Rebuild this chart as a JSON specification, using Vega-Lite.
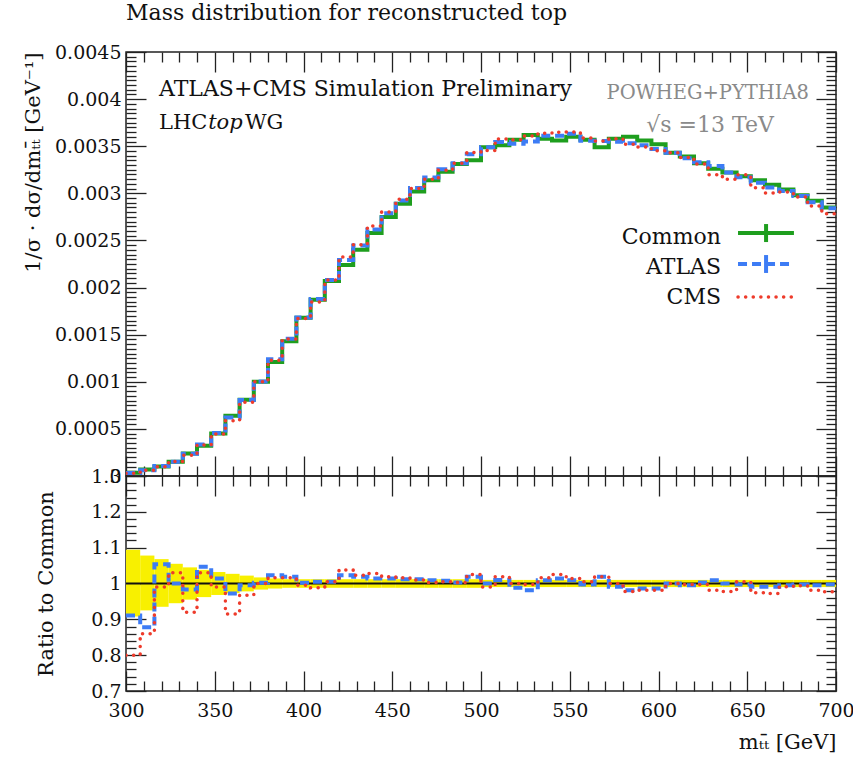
{
  "$schema": "https://vega.github.io/schema/vega-lite/v6.json",
  "background": "white",
  "padding": {"left": 21, "top": 1, "right": 5, "bottom": 0},
  "spacing": 0,
  "bounds": "flush",
  "config": {
    "view": {"stroke": "#222", "strokeWidth": 1.5},
    "font": "DejaVu Serif",
    "axis": {
      "domain": false, "grid": false, "tickColor": "#222", "tickWidth": 1.3,
      "labelFont": "DejaVu Serif", "labelFontSize": 19, "labelColor": "#111",
      "titleFont": "DejaVu Serif", "titleFontSize": 21, "titleFontWeight": "normal", "titleColor": "#111",
      "labelOverlap": false, "labelFlush": false, "labelBound": false
    }
  },
  "datasets": {
    "bins": [
      {"lo":300,"hi":308,"common":0.000035,"atlas":0.0000319,"cms":0.000028,"ra":0.911,"rc":0.80,"blo":0.908,"bhi":1.094},
      {"lo":308,"hi":316,"common":0.00007,"atlas":0.0000615,"cms":0.0000602,"ra":0.878,"rc":0.86,"blo":0.925,"bhi":1.078},
      {"lo":316,"hi":324,"common":0.0001,"atlas":0.0001054,"cms":0.000099,"ra":1.054,"rc":0.99,"blo":0.935,"bhi":1.068},
      {"lo":324,"hi":332,"common":0.00015,"atlas":0.00015,"cms":0.0001545,"ra":1.0,"rc":1.03,"blo":0.945,"bhi":1.055},
      {"lo":332,"hi":340,"common":0.00024,"atlas":0.000236,"cms":0.000221,"ra":0.983,"rc":0.92,"blo":0.955,"bhi":1.045},
      {"lo":340,"hi":348,"common":0.00032,"atlas":0.000335,"cms":0.00033,"ra":1.047,"rc":1.03,"blo":0.962,"bhi":1.038},
      {"lo":348,"hi":356,"common":0.00045,"atlas":0.000456,"cms":0.000446,"ra":1.014,"rc":0.99,"blo":0.968,"bhi":1.032},
      {"lo":356,"hi":364,"common":0.00064,"atlas":0.000622,"cms":0.000586,"ra":0.972,"rc":0.915,"blo":0.973,"bhi":1.027},
      {"lo":364,"hi":372,"common":0.00081,"atlas":0.000806,"cms":0.000783,"ra":0.995,"rc":0.967,"blo":0.978,"bhi":1.022},
      {"lo":372,"hi":380,"common":0.001,"atlas":0.001002,"cms":0.001,"ra":1.002,"rc":1.0,"blo":0.983,"bhi":1.017},
      {"lo":380,"hi":388,"common":0.00121,"atlas":0.001238,"cms":0.001229,"ra":1.023,"rc":1.016,"blo":0.986,"bhi":1.014},
      {"lo":388,"hi":396,"common":0.00143,"atlas":0.001457,"cms":0.001453,"ra":1.019,"rc":1.016,"blo":0.988,"bhi":1.012},
      {"lo":396,"hi":404,"common":0.00168,"atlas":0.001683,"cms":0.001672,"ra":1.002,"rc":0.995,"blo":0.988,"bhi":1.012},
      {"lo":404,"hi":412,"common":0.00187,"atlas":0.001879,"cms":0.001848,"ra":1.005,"rc":0.988,"blo":0.988,"bhi":1.012},
      {"lo":412,"hi":420,"common":0.00207,"atlas":0.00208,"cms":0.00208,"ra":1.005,"rc":1.005,"blo":0.988,"bhi":1.012},
      {"lo":420,"hi":428,"common":0.00224,"atlas":0.002292,"cms":0.002325,"ra":1.023,"rc":1.038,"blo":0.988,"bhi":1.012},
      {"lo":428,"hi":436,"common":0.0024,"atlas":0.002446,"cms":0.002455,"ra":1.019,"rc":1.023,"blo":0.988,"bhi":1.012},
      {"lo":436,"hi":444,"common":0.00258,"atlas":0.002616,"cms":0.002652,"ra":1.014,"rc":1.028,"blo":0.988,"bhi":1.012},
      {"lo":444,"hi":452,"common":0.00275,"atlas":0.002789,"cms":0.002802,"ra":1.014,"rc":1.019,"blo":0.988,"bhi":1.012},
      {"lo":452,"hi":460,"common":0.00289,"atlas":0.002925,"cms":0.002936,"ra":1.012,"rc":1.016,"blo":0.988,"bhi":1.012},
      {"lo":460,"hi":468,"common":0.00302,"atlas":0.003056,"cms":0.00305,"ra":1.012,"rc":1.01,"blo":0.988,"bhi":1.012},
      {"lo":468,"hi":476,"common":0.00314,"atlas":0.003168,"cms":0.003149,"ra":1.009,"rc":1.003,"blo":0.988,"bhi":1.012},
      {"lo":476,"hi":484,"common":0.00323,"atlas":0.003256,"cms":0.003246,"ra":1.008,"rc":1.005,"blo":0.988,"bhi":1.012},
      {"lo":484,"hi":492,"common":0.00331,"atlas":0.00332,"cms":0.00332,"ra":1.003,"rc":1.003,"blo":0.988,"bhi":1.012},
      {"lo":492,"hi":500,"common":0.00335,"atlas":0.003414,"cms":0.003434,"ra":1.019,"rc":1.025,"blo":0.988,"bhi":1.012},
      {"lo":500,"hi":508,"common":0.00349,"atlas":0.00349,"cms":0.003455,"ra":1.0,"rc":0.99,"blo":0.99,"bhi":1.01},
      {"lo":508,"hi":516,"common":0.00351,"atlas":0.003545,"cms":0.003577,"ra":1.01,"rc":1.019,"blo":0.99,"bhi":1.01},
      {"lo":516,"hi":524,"common":0.00357,"atlas":0.003527,"cms":0.00357,"ra":0.988,"rc":1.0,"blo":0.99,"bhi":1.01},
      {"lo":524,"hi":532,"common":0.00362,"atlas":0.003551,"cms":0.003609,"ra":0.981,"rc":0.997,"blo":0.99,"bhi":1.01},
      {"lo":532,"hi":540,"common":0.00358,"atlas":0.003612,"cms":0.003637,"ra":1.009,"rc":1.016,"blo":0.99,"bhi":1.01},
      {"lo":540,"hi":548,"common":0.00356,"atlas":0.00361,"cms":0.003649,"ra":1.014,"rc":1.025,"blo":0.99,"bhi":1.01},
      {"lo":548,"hi":556,"common":0.0036,"atlas":0.003632,"cms":0.00365,"ra":1.009,"rc":1.014,"blo":0.99,"bhi":1.01},
      {"lo":556,"hi":564,"common":0.00357,"atlas":0.003559,"cms":0.003588,"ra":0.997,"rc":1.005,"blo":0.99,"bhi":1.01},
      {"lo":564,"hi":572,"common":0.00349,"atlas":0.003556,"cms":0.003556,"ra":1.019,"rc":1.019,"blo":0.99,"bhi":1.01},
      {"lo":572,"hi":580,"common":0.00358,"atlas":0.003548,"cms":0.00358,"ra":0.991,"rc":1.0,"blo":0.99,"bhi":1.01},
      {"lo":580,"hi":588,"common":0.0036,"atlas":0.003532,"cms":0.003521,"ra":0.981,"rc":0.978,"blo":0.99,"bhi":1.01},
      {"lo":588,"hi":596,"common":0.00356,"atlas":0.00351,"cms":0.003492,"ra":0.986,"rc":0.981,"blo":0.99,"bhi":1.01},
      {"lo":596,"hi":604,"common":0.00352,"atlas":0.003471,"cms":0.003453,"ra":0.986,"rc":0.981,"blo":0.99,"bhi":1.01},
      {"lo":604,"hi":612,"common":0.00343,"atlas":0.00343,"cms":0.00343,"ra":1.0,"rc":1.0,"blo":0.99,"bhi":1.01},
      {"lo":612,"hi":620,"common":0.00339,"atlas":0.003373,"cms":0.00338,"ra":0.995,"rc":0.997,"blo":0.99,"bhi":1.01},
      {"lo":620,"hi":628,"common":0.00332,"atlas":0.00333,"cms":0.00331,"ra":1.003,"rc":0.997,"blo":0.99,"bhi":1.01},
      {"lo":628,"hi":636,"common":0.00326,"atlas":0.003289,"cms":0.003198,"ra":1.009,"rc":0.981,"blo":0.99,"bhi":1.01},
      {"lo":636,"hi":644,"common":0.00322,"atlas":0.00322,"cms":0.003149,"ra":1.0,"rc":0.978,"blo":0.99,"bhi":1.01},
      {"lo":644,"hi":652,"common":0.00318,"atlas":0.00317,"cms":0.003196,"ra":0.997,"rc":1.005,"blo":0.99,"bhi":1.01},
      {"lo":652,"hi":660,"common":0.00314,"atlas":0.003112,"cms":0.003058,"ra":0.991,"rc":0.974,"blo":0.99,"bhi":1.01},
      {"lo":660,"hi":668,"common":0.00309,"atlas":0.003062,"cms":0.003003,"ra":0.991,"rc":0.972,"blo":0.99,"bhi":1.01},
      {"lo":668,"hi":676,"common":0.00304,"atlas":0.003025,"cms":0.003013,"ra":0.995,"rc":0.991,"blo":0.99,"bhi":1.01},
      {"lo":676,"hi":684,"common":0.00298,"atlas":0.002971,"cms":0.002962,"ra":0.997,"rc":0.994,"blo":0.99,"bhi":1.01},
      {"lo":684,"hi":692,"common":0.00292,"atlas":0.002905,"cms":0.002865,"ra":0.995,"rc":0.981,"blo":0.99,"bhi":1.01},
      {"lo":692,"hi":700,"common":0.00285,"atlas":0.002841,"cms":0.002784,"ra":0.997,"rc":0.977,"blo":0.99,"bhi":1.01}
    ]
  },
  "vconcat": [
    {
      "width": 710,
      "height": 424,
      "title": {"text": "Mass distribution for reconstructed top", "anchor": "start", "frame": "group", "fontSize": 22, "fontWeight": "normal", "font": "DejaVu Serif", "color": "#111", "offset": 18},
      "data": {"name": "bins"},
      "resolve": {"axis": {"x": "independent", "y": "independent"}},
      "layer": [
        {
          "mark": {"type": "point", "opacity": 0},
          "encoding": {
            "x": {"field": "lo", "type": "quantitative", "scale": {"domain": [300, 700], "nice": false, "zero": false},
              "axis": {"orient": "bottom", "labels": false, "title": null,
                "values": [300,310,320,330,340,350,360,370,380,390,400,410,420,430,440,450,460,470,480,490,500,510,520,530,540,550,560,570,580,590,600,610,620,630,640,650,660,670,680,690,700],
                "tickSize": {"condition": {"test": "datum.value % 50 === 0", "value": -20}, "value": -10}}},
            "y": {"field": "common", "type": "quantitative", "scale": {"domain": [0, 0.0045], "nice": false, "zero": false},
              "axis": {"orient": "left", "format": "~g",
                "values": [0,0.00005,0.0001,0.00015,0.0002,0.00025,0.0003,0.00035,0.0004,0.00045,0.0005,0.00055,0.0006,0.00065,0.0007,0.00075,0.0008,0.00085,0.0009,0.00095,0.001,0.00105,0.0011,0.00115,0.0012,0.00125,0.0013,0.00135,0.0014,0.00145,0.0015,0.00155,0.0016,0.00165,0.0017,0.00175,0.0018,0.00185,0.0019,0.00195,0.002,0.00205,0.0021,0.00215,0.0022,0.00225,0.0023,0.00235,0.0024,0.00245,0.0025,0.00255,0.0026,0.00265,0.0027,0.00275,0.0028,0.00285,0.0029,0.00295,0.003,0.00305,0.0031,0.00315,0.0032,0.00325,0.0033,0.00335,0.0034,0.00345,0.0035,0.00355,0.0036,0.00365,0.0037,0.00375,0.0038,0.00385,0.0039,0.00395,0.004,0.00405,0.0041,0.00415,0.0042,0.00425,0.0043,0.00435,0.0044,0.00445,0.0045],
                "labelExpr": "abs(datum.value*2000 - round(datum.value*2000)) < 0.001 ? datum.label : ''",
                "tickSize": {"condition": {"test": "abs(datum.value*2000 - round(datum.value*2000)) < 0.001", "value": -20}, "value": -10},
                "labelPadding": 25,
                "title": "1/σ · dσ/dmₜₜ̄ [GeV⁻¹]", "titleAnchor": "end", "titlePadding": 11}}
          }
        },
        {
          "mark": {"type": "point", "opacity": 0},
          "encoding": {
            "x": {"field": "lo", "type": "quantitative",
              "axis": {"orient": "top", "labels": false, "title": null,
                "values": [300,310,320,330,340,350,360,370,380,390,400,410,420,430,440,450,460,470,480,490,500,510,520,530,540,550,560,570,580,590,600,610,620,630,640,650,660,670,680,690,700],
                "tickSize": {"condition": {"test": "datum.value % 50 === 0", "value": -20}, "value": -10}}},
            "y": {"field": "common", "type": "quantitative",
              "axis": {"orient": "right", "labels": false, "title": null,
                "values": [0,0.00005,0.0001,0.00015,0.0002,0.00025,0.0003,0.00035,0.0004,0.00045,0.0005,0.00055,0.0006,0.00065,0.0007,0.00075,0.0008,0.00085,0.0009,0.00095,0.001,0.00105,0.0011,0.00115,0.0012,0.00125,0.0013,0.00135,0.0014,0.00145,0.0015,0.00155,0.0016,0.00165,0.0017,0.00175,0.0018,0.00185,0.0019,0.00195,0.002,0.00205,0.0021,0.00215,0.0022,0.00225,0.0023,0.00235,0.0024,0.00245,0.0025,0.00255,0.0026,0.00265,0.0027,0.00275,0.0028,0.00285,0.0029,0.00295,0.003,0.00305,0.0031,0.00315,0.0032,0.00325,0.0033,0.00335,0.0034,0.00345,0.0035,0.00355,0.0036,0.00365,0.0037,0.00375,0.0038,0.00385,0.0039,0.00395,0.004,0.00405,0.0041,0.00415,0.0042,0.00425,0.0043,0.00435,0.0044,0.00445,0.0045],
                "tickSize": {"condition": {"test": "abs(datum.value*2000 - round(datum.value*2000)) < 0.001", "value": -20}, "value": -10}}}
          }
        },
        {
          "transform": [{"fold": ["lo", "hi"], "as": ["edge", "xe"]}],
          "mark": {"type": "line", "color": "#1e9e1e", "strokeWidth": 4, "clip": true},
          "encoding": {
            "x": {"field": "xe", "type": "quantitative", "axis": null},
            "y": {"field": "common", "type": "quantitative", "axis": null},
            "order": [{"field": "xe", "type": "quantitative"}, {"field": "edge", "type": "nominal"}]
          }
        },
        {
          "transform": [{"fold": ["lo", "hi"], "as": ["edge", "xe"]}],
          "mark": {"type": "line", "color": "#3d7cf5", "strokeWidth": 4, "strokeDash": [9, 5], "clip": true},
          "encoding": {
            "x": {"field": "xe", "type": "quantitative", "axis": null},
            "y": {"field": "atlas", "type": "quantitative", "axis": null},
            "order": [{"field": "xe", "type": "quantitative"}, {"field": "edge", "type": "nominal"}]
          }
        },
        {
          "transform": [{"fold": ["lo", "hi"], "as": ["edge", "xe"]}],
          "mark": {"type": "line", "color": "#ee3b2b", "strokeWidth": 3.5, "strokeDash": [0.1, 7.5], "strokeCap": "round", "clip": true},
          "encoding": {
            "x": {"field": "xe", "type": "quantitative", "axis": null},
            "y": {"field": "cms", "type": "quantitative", "axis": null},
            "order": [{"field": "xe", "type": "quantitative"}, {"field": "edge", "type": "nominal"}]
          }
        },
        {
          "data": {"values": [{"label": "ATLAS+CMS Simulation Preliminary"}]},
          "mark": {"type": "text", "align": "left", "baseline": "alphabetic", "fontSize": 22, "font": "DejaVu Serif", "color": "#111"},
          "encoding": {"x": {"datum": 318.6, "type": "quantitative", "axis": null}, "y": {"datum": 0.004033, "type": "quantitative", "axis": null}, "text": {"field": "label"}}
        },
        {
          "data": {"values": [{"label": "LHC"}]},
          "mark": {"type": "text", "align": "left", "baseline": "alphabetic", "fontSize": 21, "font": "DejaVu Serif", "color": "#111"},
          "encoding": {"x": {"datum": 318.6, "type": "quantitative", "axis": null}, "y": {"datum": 0.003683, "type": "quantitative", "axis": null}, "text": {"field": "label"}}
        },
        {
          "data": {"values": [{"label": "top"}]},
          "mark": {"type": "text", "align": "left", "baseline": "alphabetic", "fontSize": 21, "font": "DejaVu Serif", "fontStyle": "italic", "color": "#111"},
          "encoding": {"x": {"datum": 346.3, "type": "quantitative", "axis": null}, "y": {"datum": 0.003683, "type": "quantitative", "axis": null}, "text": {"field": "label"}}
        },
        {
          "data": {"values": [{"label": "WG"}]},
          "mark": {"type": "text", "align": "left", "baseline": "alphabetic", "fontSize": 21, "font": "DejaVu Serif", "color": "#111"},
          "encoding": {"x": {"datum": 367, "type": "quantitative", "axis": null}, "y": {"datum": 0.003683, "type": "quantitative", "axis": null}, "text": {"field": "label"}}
        },
        {
          "data": {"values": [{"label": "POWHEG+PYTHIA8"}]},
          "mark": {"type": "text", "align": "right", "baseline": "alphabetic", "fontSize": 19.5, "font": "DejaVu Serif", "color": "#8a8a8a"},
          "encoding": {"x": {"datum": 684.8, "type": "quantitative", "axis": null}, "y": {"datum": 0.004001, "type": "quantitative", "axis": null}, "text": {"field": "label"}}
        },
        {
          "data": {"values": [{"label": "√s =13 TeV"}]},
          "mark": {"type": "text", "align": "right", "baseline": "alphabetic", "fontSize": 22, "font": "DejaVu Serif", "color": "#8a8a8a"},
          "encoding": {"x": {"datum": 665, "type": "quantitative", "axis": null}, "y": {"datum": 0.00365, "type": "quantitative", "axis": null}, "text": {"field": "label"}}
        },
        {
          "data": {"values": [{"label": "Common"}]},
          "mark": {"type": "text", "align": "right", "baseline": "alphabetic", "fontSize": 22, "font": "DejaVu Serif", "color": "#111"},
          "encoding": {"x": {"datum": 635.2, "type": "quantitative", "axis": null}, "y": {"datum": 0.002462, "type": "quantitative", "axis": null}, "text": {"field": "label"}}
        },
        {
          "data": {"values": [{"label": "ATLAS"}]},
          "mark": {"type": "text", "align": "right", "baseline": "alphabetic", "fontSize": 22, "font": "DejaVu Serif", "color": "#111"},
          "encoding": {"x": {"datum": 635.2, "type": "quantitative", "axis": null}, "y": {"datum": 0.002144, "type": "quantitative", "axis": null}, "text": {"field": "label"}}
        },
        {
          "data": {"values": [{"label": "CMS"}]},
          "mark": {"type": "text", "align": "right", "baseline": "alphabetic", "fontSize": 22, "font": "DejaVu Serif", "color": "#111"},
          "encoding": {"x": {"datum": 635.2, "type": "quantitative", "axis": null}, "y": {"datum": 0.001825, "type": "quantitative", "axis": null}, "text": {"field": "label"}}
        },
        {
          "data": {"values": [{"series": "Common"}]},
          "mark": {"type": "rule", "color": "#1e9e1e", "strokeWidth": 4},
          "encoding": {"x": {"datum": 644.8, "type": "quantitative", "axis": null}, "x2": {"datum": 676.3}, "y": {"datum": 0.002579, "type": "quantitative", "axis": null}}
        },
        {
          "data": {"values": [{"series": "Common"}]},
          "mark": {"type": "rule", "color": "#1e9e1e", "strokeWidth": 4},
          "encoding": {"x": {"datum": 660.6, "type": "quantitative", "axis": null}, "y": {"datum": 0.002483, "type": "quantitative", "axis": null}, "y2": {"datum": 0.002674}}
        },
        {
          "data": {"values": [{"series": "ATLAS"}]},
          "mark": {"type": "rule", "color": "#3d7cf5", "strokeWidth": 4, "strokeDash": [9, 5]},
          "encoding": {"x": {"datum": 644.8, "type": "quantitative", "axis": null}, "x2": {"datum": 676.3}, "y": {"datum": 0.00225, "type": "quantitative", "axis": null}}
        },
        {
          "data": {"values": [{"series": "ATLAS"}]},
          "mark": {"type": "rule", "color": "#3d7cf5", "strokeWidth": 4},
          "encoding": {"x": {"datum": 660.6, "type": "quantitative", "axis": null}, "y": {"datum": 0.002155, "type": "quantitative", "axis": null}, "y2": {"datum": 0.002345}}
        },
        {
          "data": {"values": [{"series": "CMS"}]},
          "mark": {"type": "rule", "color": "#ee3b2b", "strokeWidth": 3.5, "strokeDash": [0.1, 7.5], "strokeCap": "round"},
          "encoding": {"x": {"datum": 644.8, "type": "quantitative", "axis": null}, "x2": {"datum": 676.3}, "y": {"datum": 0.0019, "type": "quantitative", "axis": null}}
        }
      ]
    },
    {
      "width": 710,
      "height": 215,
      "data": {"name": "bins"},
      "resolve": {"axis": {"x": "independent", "y": "independent"}},
      "layer": [
        {
          "mark": {"type": "rect", "color": "#f8f000"},
          "encoding": {
            "x": {"field": "lo", "type": "quantitative", "scale": {"domain": [300, 700], "nice": false, "zero": false},
              "axis": {"orient": "bottom", "title": "mₜₜ̄ [GeV]", "titleAnchor": "end", "titlePadding": 1,
                "values": [300,310,320,330,340,350,360,370,380,390,400,410,420,430,440,450,460,470,480,490,500,510,520,530,540,550,560,570,580,590,600,610,620,630,640,650,660,670,680,690,700],
                "labelExpr": "datum.value % 50 === 0 ? datum.label : ''",
                "tickSize": {"condition": {"test": "datum.value % 50 === 0", "value": -20}, "value": -10},
                "labelPadding": 30}},
            "x2": {"field": "hi"},
            "y": {"field": "blo", "type": "quantitative", "scale": {"domain": [0.7, 1.3], "nice": false, "zero": false},
              "axis": {"orient": "left", "format": "~g", "title": "Ratio to Common", "titlePadding": 34,
                "values": [0.7,0.72,0.74,0.76,0.78,0.8,0.82,0.84,0.86,0.88,0.9,0.92,0.94,0.96,0.98,1,1.02,1.04,1.06,1.08,1.1,1.12,1.14,1.16,1.18,1.2,1.22,1.24,1.26,1.28,1.3],
                "labelExpr": "abs(datum.value*10 - round(datum.value*10)) < 0.001 ? datum.label : ''",
                "tickSize": {"condition": {"test": "abs(datum.value*10 - round(datum.value*10)) < 0.001", "value": -20}, "value": -10},
                "labelPadding": 25}},
            "y2": {"field": "bhi"}
          }
        },
        {
          "mark": {"type": "point", "opacity": 0},
          "encoding": {
            "x": {"field": "lo", "type": "quantitative",
              "axis": {"orient": "top", "labels": false, "title": null,
                "values": [300,310,320,330,340,350,360,370,380,390,400,410,420,430,440,450,460,470,480,490,500,510,520,530,540,550,560,570,580,590,600,610,620,630,640,650,660,670,680,690,700],
                "tickSize": {"condition": {"test": "datum.value % 50 === 0", "value": -20}, "value": -10}}},
            "y": {"field": "ra", "type": "quantitative",
              "axis": {"orient": "right", "labels": false, "title": null,
                "values": [0.7,0.72,0.74,0.76,0.78,0.8,0.82,0.84,0.86,0.88,0.9,0.92,0.94,0.96,0.98,1,1.02,1.04,1.06,1.08,1.1,1.12,1.14,1.16,1.18,1.2,1.22,1.24,1.26,1.28,1.3],
                "tickSize": {"condition": {"test": "abs(datum.value*10 - round(datum.value*10)) < 0.001", "value": -20}, "value": -10}}}
          }
        },
        {
          "data": {"values": [{"ref": 1}]},
          "mark": {"type": "rule", "color": "#111", "strokeWidth": 2},
          "encoding": {"y": {"datum": 1, "type": "quantitative", "axis": null}}
        },
        {
          "transform": [{"fold": ["lo", "hi"], "as": ["edge", "xe"]}],
          "mark": {"type": "line", "color": "#3d7cf5", "strokeWidth": 4, "strokeDash": [9, 5], "clip": true},
          "encoding": {
            "x": {"field": "xe", "type": "quantitative", "axis": null},
            "y": {"field": "ra", "type": "quantitative", "axis": null},
            "order": [{"field": "xe", "type": "quantitative"}, {"field": "edge", "type": "nominal"}]
          }
        },
        {
          "transform": [{"fold": ["lo", "hi"], "as": ["edge", "xe"]}],
          "mark": {"type": "line", "color": "#ee3b2b", "strokeWidth": 3.5, "strokeDash": [0.1, 7.5], "strokeCap": "round", "clip": true},
          "encoding": {
            "x": {"field": "xe", "type": "quantitative", "axis": null},
            "y": {"field": "rc", "type": "quantitative", "axis": null},
            "order": [{"field": "xe", "type": "quantitative"}, {"field": "edge", "type": "nominal"}]
          }
        }
      ]
    }
  ]
}
